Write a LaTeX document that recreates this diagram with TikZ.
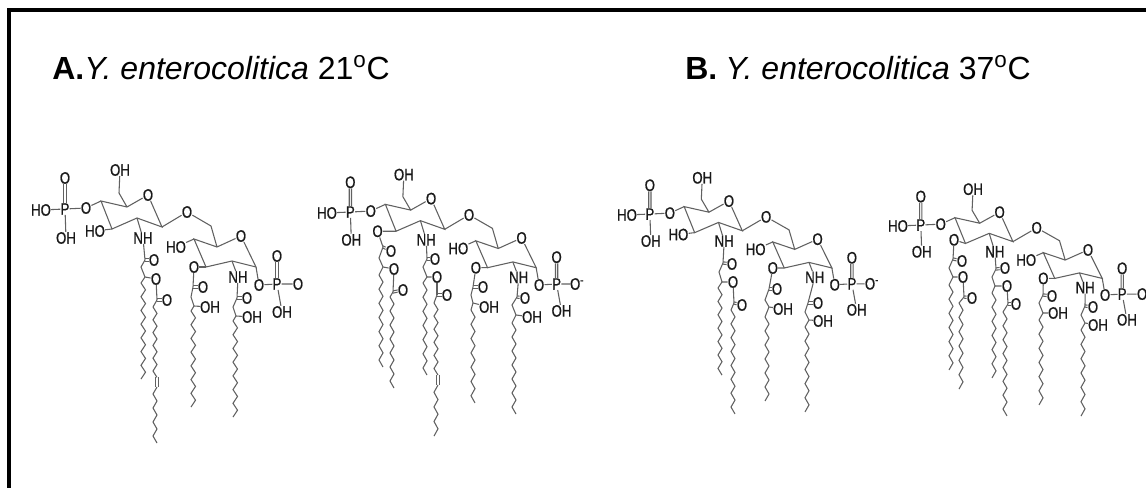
\documentclass[tikz,border=0pt]{standalone}
\usepackage{fontspec}
\setmainfont{Liberation Sans}
\newfontfamily\chem[FakeStretch=0.8,FakeBold=0.8]{Liberation Sans}
\tikzset{
 x=0.75pt,y=-0.75pt,
 atom/.style={font=\chem\fontsize{12.4pt}{13pt}\selectfont,text=black!90,inner sep=0.2pt,outer sep=0pt},
 bond/.style={draw=black!62,line width=0.8pt},
 dv/.style={bond,transform canvas={xshift=0.85pt}},
 dw/.style={bond,transform canvas={xshift=-0.85pt}},
 du/.style={bond,transform canvas={yshift=0.85pt}},
 dt/.style={bond,transform canvas={yshift=-0.85pt}},
 title/.style={font=\fontsize{24pt}{28pt}\selectfont,anchor=base west,inner sep=0pt}
}
% upright double bond and flat double bond between two named points
\newcommand\dblv[2]{\draw[dv] (#1) -- (#2); \draw[dw] (#1) -- (#2);}
\newcommand\dblh[2]{\draw[du] (#1) -- (#2); \draw[dt] (#1) -- (#2);}
% core: #1 prefix, #2 scope options, #3 C3 substituent text, #4 its position, #5 terminal text
\newcommand\core[5]{%
\begin{scope}[#2]
 \coordinate (#1c6) at (119,193); \coordinate (#1c5) at (127,207);
 \coordinate (#1c1) at (162,227); \coordinate (#1c2) at (137,218);
 \coordinate (#1c3) at (112,229); \coordinate (#1c4) at (101,201);
 \coordinate (#1d6) at (211,226); \coordinate (#1d5) at (217,247);
 \coordinate (#1d1) at (256,267); \coordinate (#1d2) at (232,261);
 \coordinate (#1d3) at (206,267); \coordinate (#1d4) at (194,239);
 \node[atom] (#1oh6) at (120,170) {OH};
 \node[atom] (#1ro) at (148,195) {O};
 \node[atom] (#1o4) at (86,208) {O};
 \node[atom] (#1p) at (65,209) {P};
 \node[atom] (#1po) at (65,178) {O};
 \node[atom] (#1pho) at (41,210) {HO};
 \node[atom] (#1poh) at (66,238) {OH};
 \node[atom] (#1s3) at #4 {#3};
 \node[atom] (#1nh) at (143,238) {NH};
 \node[atom] (#1br) at (187,212) {O};
 \node[atom] (#1rp) at (241,236) {O};
 \node[atom] (#1ho4) at (176,247) {HO};
 \node[atom] (#1o3) at (194,267) {O};
 \node[atom] (#1nhb) at (238,277) {NH};
 \node[atom] (#1o1) at (259,285) {O};
 \node[atom] (#1q) at (277,284) {P};
 \node[atom] (#1qo) at (277,256) {O};
 \node[atom] (#1qm) at (298,284) {#5};
 \node[atom] (#1qh) at (282,312) {OH};
 \draw[bond] (#1oh6) -- (#1c6) -- (#1c5) -- (#1ro) -- (#1c1) -- (#1c2) -- (#1c3) -- (#1c4) -- (#1c5);
 \draw[bond] (#1c4) -- (#1o4) -- (#1p) -- (#1pho);
 \dblv{#1p}{#1po}
 \draw[bond] (#1p) -- (#1poh);
 \draw[bond] (#1c3) -- (#1s3);
 \draw[bond] (#1c2) -- (#1nh);
 \draw[bond] (#1c1) -- (#1br) -- (#1d6) -- (#1d5) -- (#1rp) -- (#1d1) -- (#1d2) -- (#1d3) -- (#1d4) -- (#1d5);
 \draw[bond] (#1d4) -- (#1ho4);
 \draw[bond] (#1d3) -- (#1o3);
 \draw[bond] (#1d2) -- (#1nhb);
 \draw[bond] (#1d1) -- (#1o1) -- (#1q) -- (#1qm);
 \dblv{#1q}{#1qo}
 \draw[bond] (#1q) -- (#1qh);
\end{scope}}
% zigzag: x, y, n bonds, dx, dy
\newcommand\zig[5]{\draw[bond] plot[samples at={0,...,#3}] ({#1+(#4)*mod(\x,2)},{#2+(#5)*\x});}
% acyl head: #1 name, #2 from-node, #3 carbonyl C, #4 carbonyl O, #5 CH2, #6 CH, #7 label, #8 label pos, #9 chain first point
\newcommand\head[9]{%
 \coordinate (#1c) at #3; \coordinate (#1m) at #5; \coordinate (#1h) at #6; \coordinate (#1z) at #9;
 \node[atom] (#1o) at #4 {O};
 \node[atom] (#1x) at #8 {#7};
 \draw[bond] (#2) -- (#1c) -- (#1m) -- (#1h) -- (#1x);
 \dblh{#1c}{#1o}
 \draw[bond] (#1h) -- (#1z);}
% ester: #1 name, #2 from-node, #3 C, #4 O, #5 chain first point
\newcommand\ester[5]{%
 \coordinate (#1c) at #3; \coordinate (#1z) at #5;
 \node[atom] (#1o) at #4 {O};
 \draw[bond] (#2) -- (#1c);
 \dblh{#1c}{#1o}
 \draw[bond] (#1c) -- (#1z);}
\begin{document}
\begin{tikzpicture}
\useasboundingbox (0,0) rectangle (1146,488);
\fill[white] (0,0) rectangle (1146,488);
\draw[line width=3.2pt] (9.3,492) -- (9.3,10) -- (1150,10);
\node[title] (ta) at (52,80) {\textbf{A.}\textit{Y. enterocolitica} 21\textsuperscript{o}C};
\node[title] (tb) at (685,80) {\textbf{B.}\hspace{6pt}\textit{Y. enterocolitica} 37\textsuperscript{o}C};

% ---- molecule 1
\core{a}{}{HO}{(95,231)}{O}
\head{a1}{anh}{(145,260)}{(154,260)}{(141,267)}{(145,277)}{O}{(156,279)}{(141,283)}
\zig{141}{283}{14}{4.5}{6.86}
\ester{a2}{a1x}{(157,300)}{(167,300)}{(153,307)}
\zig{153}{307}{11}{4}{6.4}
\coordinate (a2u) at (157,377); \coordinate (a2v) at (157,387);
\dblv{a2u}{a2v}
\zig{157}{387}{8}{-4}{7}
\head{a3}{ao3}{(193,287)}{(203,287)}{(191,297)}{(194,306)}{OH}{(210,307)}{(191,311)}
\zig{191}{311}{14}{4.5}{6.86}
\head{a4}{anhb}{(237,298)}{(247,298)}{(233,307)}{(236,316)}{OH}{(252,317)}{(233,321)}
\zig{233}{321}{14}{4.5}{6.86}

% ---- molecule 2
\core{b}{shift={(327,213)},xscale=0.973,yscale=0.96,shift={(-41,-210)}}{O}{(93,229)}{O\textsuperscript{-}}
\head{b0}{bs3}{(383,247)}{(391,251)}{(379,258)}{(383,267)}{O}{(394,269)}{(379,275)}
\zig{379}{275}{13}{4}{7.08}
\ester{b5}{b0x}{(393,292)}{(403,290)}{(390,297)}
\zig{390}{297}{13}{4}{7}
\head{b1}{bnh}{(427,259)}{(435,259)}{(423,267)}{(427,277)}{O}{(437,277)}{(423,283)}
\zig{423}{283}{13}{4}{7.08}
\ester{b2}{b1x}{(437,295)}{(447,295)}{(434,303)}
\zig{434}{303}{11}{4}{6.55}
\coordinate (b2u) at (438,375); \coordinate (b2v) at (438,385);
\dblv{b2u}{b2v}
\zig{438}{385}{7}{-4}{7.3}
\head{b3}{bo3}{(473,287)}{(483,287)}{(471,295)}{(473,303)}{OH}{(489,307)}{(471,310)}
\zig{471}{310}{13}{4}{7.15}
\head{b4}{bnhb}{(517,297)}{(525,298)}{(512,305)}{(516,315)}{OH}{(532,317)}{(512,323)}
\zig{512}{323}{13}{4}{7}

% ---- molecule 3
\core{c}{shift={(627,215)},xscale=0.953,yscale=0.93,shift={(-41,-210)}}{HO}{(95,231)}{O\textsuperscript{-}}
\head{c1}{cnh}{(723,263)}{(732,264)}{(719,272)}{(722,282)}{O}{(733,282)}{(718,288)}
\zig{718}{288}{13}{4}{6.7}
\ester{c2}{c1x}{(734,303)}{(742,305)}{(731,310)}
\zig{731}{310}{15}{4}{6.93}
\head{c3}{co3}{(769,289)}{(777,289)}{(765,300)}{(769,307)}{OH}{(783,309)}{(765,317)}
\zig{765}{317}{12}{4}{7}
\head{c4}{cnhb}{(808,303)}{(818,303)}{(805,312)}{(809,320)}{OH}{(823,321)}{(805,327)}
\zig{805}{327}{12}{4}{7.08}

% ---- molecule 4
\core{d}{shift={(898,226)},xscale=0.95,yscale=0.92,shift={(-41,-210)}}{O}{(100,225)}{O}
\head{d0}{ds3}{(953,259)}{(962,261)}{(949,268)}{(953,277)}{O}{(963,277)}{(949,285)}
\zig{949}{285}{12}{4}{7.08}
\ester{d5}{d0x}{(964,297)}{(972,298)}{(959,303)}
\zig{959}{303}{12}{4}{7.17}
\head{d1}{dnh}{(996,269)}{(1005,268)}{(992,277)}{(995,286)}{O}{(1007,286)}{(992,293)}
\zig{992}{293}{12}{4}{7.08}
\ester{d2}{d1x}{(1008,304)}{(1016,304)}{(1003,312)}
\zig{1003}{312}{15}{4}{6.93}
\head{d3}{do3}{(1043,295)}{(1052,296)}{(1039,303)}{(1043,313)}{OH}{(1058,313)}{(1039,320)}
\zig{1039}{320}{12}{4}{7.08}
\head{d4}{dnhb}{(1085,306)}{(1093,307)}{(1081,315)}{(1085,323)}{OH}{(1098,325)}{(1081,330)}
\zig{1081}{330}{12}{4}{7.17}
\end{tikzpicture}
\end{document}
